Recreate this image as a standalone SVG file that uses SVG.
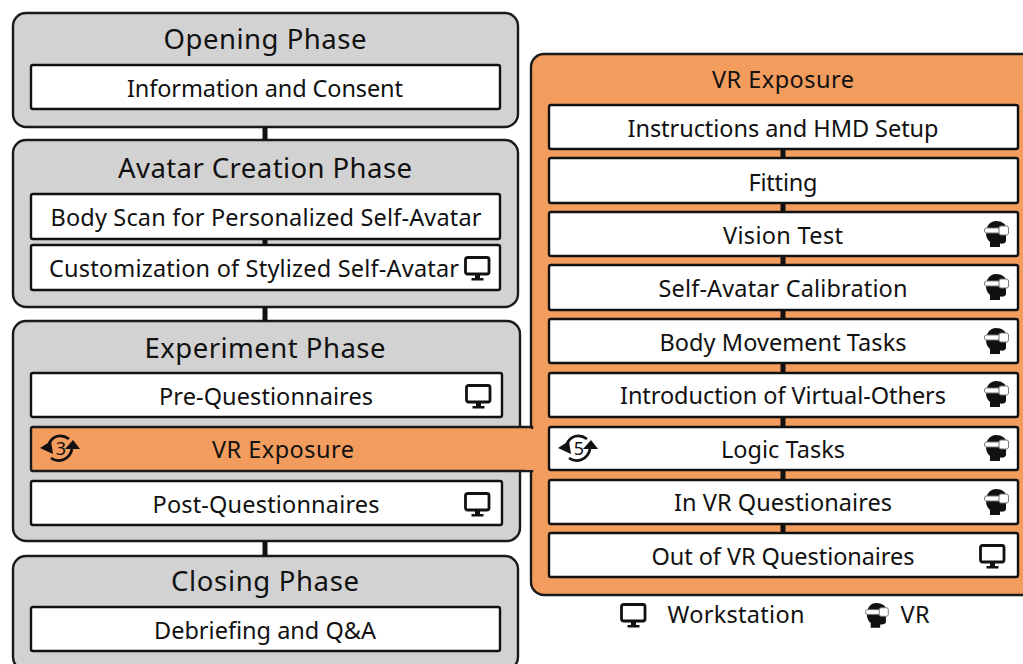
<svg xmlns="http://www.w3.org/2000/svg" width="1023" height="664" viewBox="0 0 1023 664">
<style>
text{font-family:"Noto Sans","Open Sans","Liberation Sans",sans-serif;fill:#111;text-anchor:middle}
.t{font-size:27.5px}
.l{font-size:23.5px}
.n{font-size:18px}
.phase{fill:#d2d2d2;stroke:#1a1a1a;stroke-width:2.4}
.box{fill:#fff;stroke:#111;stroke-width:2.4}
.or{fill:#f29c5e;stroke:#1a1a1a;stroke-width:2.4}
.c{stroke:#111;stroke-width:5;fill:none}
</style>
<defs>
<g id="mon"><rect x="1.500" y="1.500" width="23.500" height="16.500" rx="2" fill="#fff" stroke="#111" stroke-width="2.800"/><path d="M11 19h5v3h3.500v2.500h-12V22H11z" fill="#111"/></g>
<g id="vr"><path d="M12 0C18 0 22 3 23 8L22 15V20C22 22 19 23 16 22.500V26H6V21C3.500 19 2 16 2 12 2 5 6 0 12 0z" fill="#111"/><rect x="0.500" y="7" width="16" height="5" rx="2" fill="#fff" stroke="#777" stroke-width="1"/><rect x="15" y="5" width="9.500" height="9" rx="2" fill="#fff" stroke="#777" stroke-width="1"/></g>
<g id="cyc"><path d="M9 11C12 3 21 0 29 6M32 16C30 26 19 31 11 25" fill="none" stroke="#111" stroke-width="2.800"/><path d="M0 15L11 8 13 21z" fill="#111"/><path d="M33 7L25 16H40z" fill="#111"/></g>
</defs>

<rect x="520" y="421" width="14" height="56" fill="#fff"/>

<g id="opening">
<rect class="phase" x="13" y="13" width="505" height="114" rx="13"/>
<text class="t" x="265" y="49" textLength="203">Opening Phase</text>
<rect class="box" x="31" y="65" width="469" height="44" rx="2"/>
<text class="l" x="265" y="97" textLength="276">Information and Consent</text>
</g>

<g id="avatar">
<rect class="phase" x="13" y="140" width="505" height="167" rx="13"/>
<text class="t" x="265" y="178" textLength="294">Avatar Creation Phase</text>
<rect class="box" x="31" y="194" width="469" height="45" rx="2"/>
<text class="l" x="266" y="226" textLength="431">Body Scan for Personalized Self-Avatar</text>
<rect class="box" x="31" y="245" width="469" height="45" rx="2"/>
<text class="l" x="254" y="277" textLength="410">Customization of Stylized Self-Avatar</text>
<use href="#mon" x="464" y="256"/>
</g>

<g id="experiment">
<rect class="phase" x="13" y="321" width="507" height="220" rx="13"/>
<text class="t" x="265" y="358" textLength="241">Experiment Phase</text>
<rect class="box" x="31" y="373" width="471" height="44" rx="2"/>
<text class="l" x="266" y="405" textLength="214">Pre-Questionnaires</text>
<use href="#mon" x="465" y="384"/>
<rect class="box" x="31" y="481" width="471" height="44" rx="2"/>
<text class="l" x="266" y="513" textLength="227">Post-Questionnaires</text>
<use href="#mon" x="464" y="492"/>
</g>

<g id="closing">
<rect class="phase" x="13" y="556" width="505" height="114" rx="13"/>
<text class="t" x="265" y="591" textLength="188">Closing Phase</text>
<rect class="box" x="31" y="607" width="469" height="44" rx="2"/>
<text class="l" x="265" y="639" textLength="222">Debriefing and Q&amp;A</text>
</g>

<g id="vr-panel">
<rect class="or" x="531" y="54" width="510" height="541" rx="13"/>
<text class="l" x="783" y="88" textLength="142">VR Exposure</text>
</g>

<g id="vr-exposure-left">
<path d="M532 427H33q-2 0-2 2v40q0 2 2 2H532z" class="or"/>
<rect x="525" y="429" width="12" height="41" fill="#f29c5e"/>
<use href="#cyc" x="40" y="433"/>
<text class="n" x="61" y="455">3</text>
<text class="l" x="283" y="458" textLength="142">VR Exposure</text>
</g>

<g id="connectors">
<path class="c" d="M265 127V140M265 307V321M265 541V556M265 239V245"/>
<path class="c" d="M783 149V158M783 203V212M783 256V265M783 310V319M783 363V373M783 417V427M783 470V480M783 524V533"/>
</g>

<g id="r1"><rect class="box" x="549" y="105" width="469" height="44" rx="2"/><text class="l" x="783" y="137" textLength="311">Instructions and HMD Setup</text></g>
<g id="r2"><rect class="box" x="549" y="158" width="469" height="45" rx="2"/><text class="l" x="783" y="191" textLength="69">Fitting</text></g>
<g id="r3"><rect class="box" x="549" y="212" width="469" height="44" rx="2"/><text class="l" x="783" y="244" textLength="120">Vision Test</text><use href="#vr" x="984" y="221"/></g>
<g id="r4"><rect class="box" x="549" y="265" width="469" height="45" rx="2"/><text class="l" x="783" y="297" textLength="249">Self-Avatar Calibration</text><use href="#vr" x="984" y="274"/></g>
<g id="r5"><rect class="box" x="549" y="319" width="469" height="44" rx="2"/><text class="l" x="783" y="351" textLength="247">Body Movement Tasks</text><use href="#vr" x="984" y="328"/></g>
<g id="r6"><rect class="box" x="549" y="373" width="469" height="44" rx="2"/><text class="l" x="783" y="404" textLength="326">Introduction of Virtual-Others</text><use href="#vr" x="984" y="381"/></g>
<g id="r7"><rect class="box" x="549" y="427" width="469" height="43" rx="2"/><text class="l" x="783" y="458" textLength="124">Logic Tasks</text><use href="#vr" x="984" y="435"/><use href="#cyc" x="558" y="433"/><text class="n" x="579" y="455">5</text></g>
<g id="r8"><rect class="box" x="549" y="480" width="469" height="44" rx="2"/><text class="l" x="783" y="511" textLength="218">In VR Questionaires</text><use href="#vr" x="984" y="489"/></g>
<g id="r9"><rect class="box" x="549" y="533" width="469" height="44" rx="2"/><text class="l" x="783" y="565" textLength="263">Out of VR Questionaires</text><use href="#mon" x="979" y="544"/></g>

<g id="legend">
<use href="#mon" x="620" y="603"/>
<text class="l" x="736" y="623" textLength="137">Workstation</text>
<use href="#vr" transform="translate(865 603) scale(.95)"/>
<text class="l" x="915" y="623" textLength="29">VR</text>
</g>
</svg>
